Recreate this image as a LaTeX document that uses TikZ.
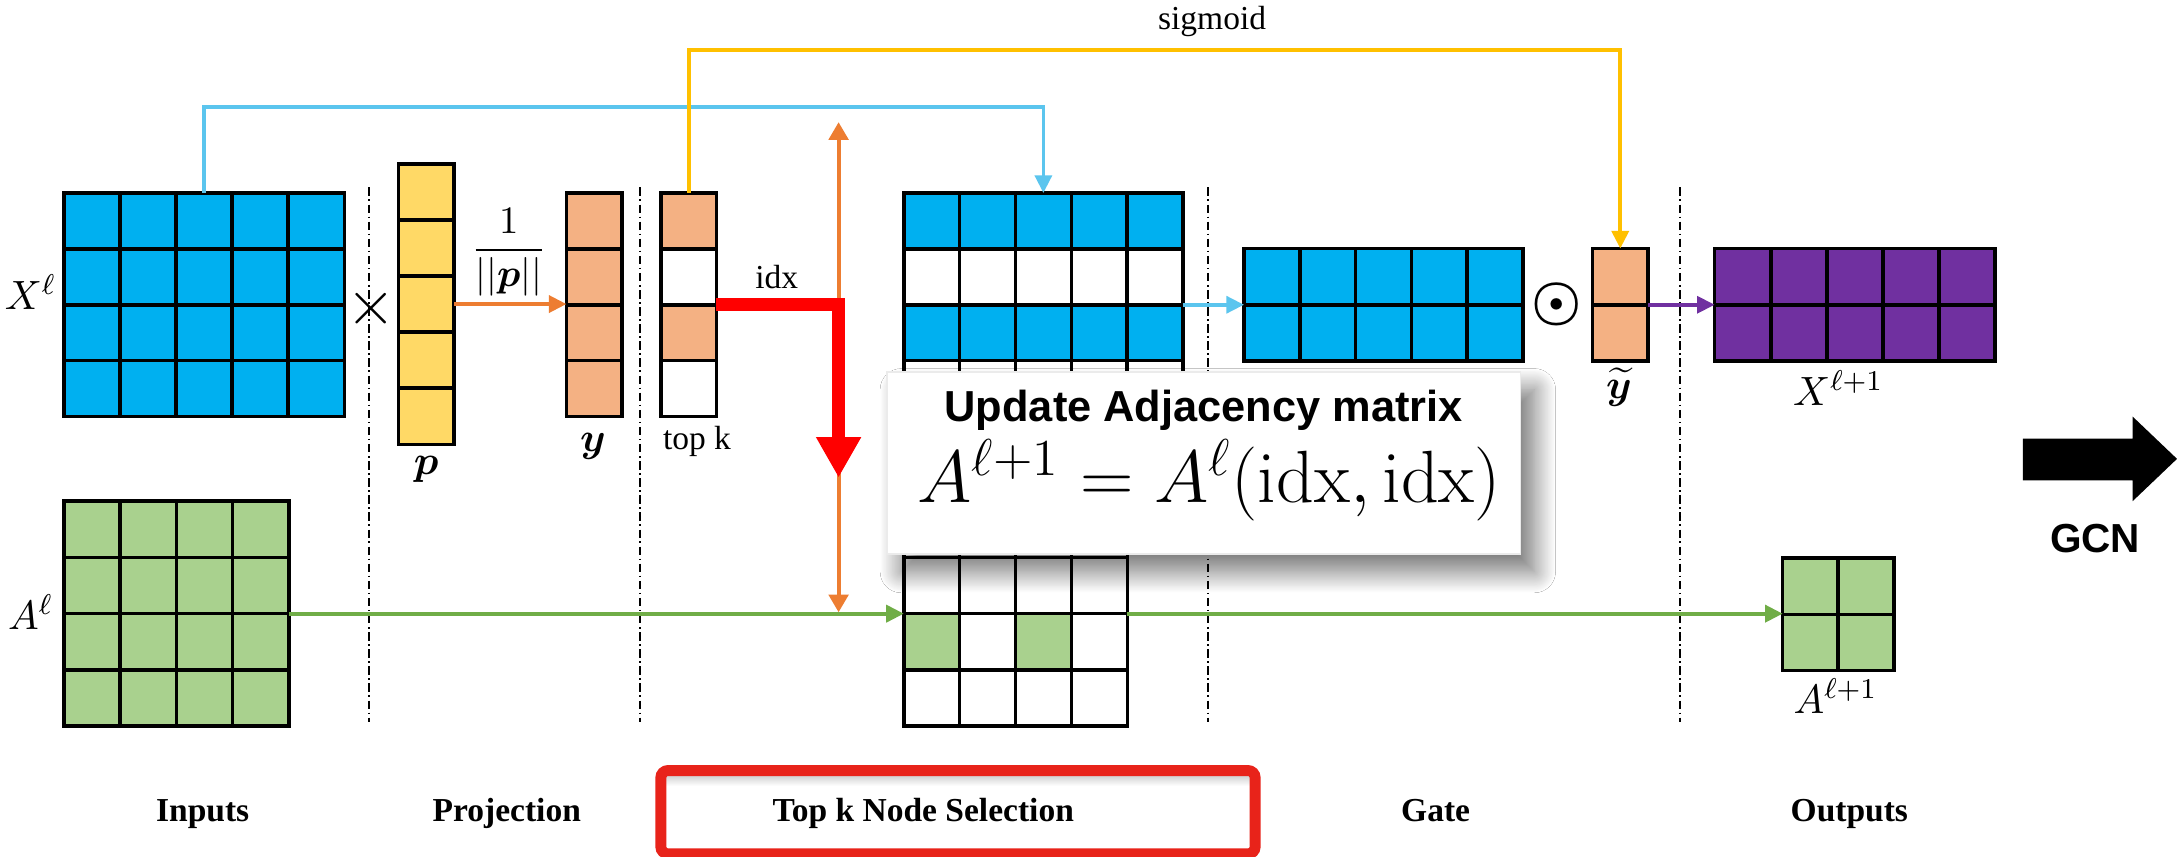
\RequirePackage{fix-cm}
\documentclass[tikz,border=0pt]{standalone}
\usepackage{amsmath}
\usepackage{bm}
\usepackage{graphicx}
\usepackage{fontspec}
\newfontfamily\serifface{Liberation Serif}
\newfontfamily\sansface{Liberation Sans}
\usetikzlibrary{arrows.meta,calc,shadows.blur}

\definecolor{cblue}{HTML}{00B0F0}
\definecolor{lblue}{HTML}{5BC5EE}
\definecolor{cyellow}{HTML}{FFD966}
\definecolor{corange}{HTML}{F4B183}
\definecolor{darkorange}{HTML}{ED7D31}
\definecolor{gold}{HTML}{FFC000}
\definecolor{cgreen}{HTML}{A9D18E}
\definecolor{lgreen}{HTML}{70AD47}
\definecolor{cpurple}{HTML}{7030A0}
\definecolor{cred}{HTML}{FF0000}
\definecolor{boxred}{HTML}{E8231A}

% one drawing unit in pt
\newcommand\upx[1]{#1*0.3937pt}

% inner grid lines and outline of a matrix node: name, columns, rows
\newcommand\matgrid[3]{%
  \pgfmathtruncatemacro\mgcols{#2-1}%
  \pgfmathtruncatemacro\mgrows{#3-1}%
  \ifnum\mgcols>0
    \foreach \i in {1,...,\mgcols}{%
      \draw[gl] ($(#1.north west)!{\i/#2}!(#1.north east)$) -- ($(#1.south west)!{\i/#2}!(#1.south east)$);}%
  \fi
  \ifnum\mgrows>0
    \foreach \j in {1,...,\mgrows}{%
      \draw[gl] ($(#1.north west)!{\j/#3}!(#1.south west)$) -- ($(#1.north east)!{\j/#3}!(#1.south east)$);}%
  \fi
  \draw[gl] (#1.north west) rectangle (#1.south east);
}

\begin{document}
\begin{tikzpicture}[x=0.3937pt,y=-0.3937pt,
  mat/.style={inner sep=0pt, outer sep=0pt, anchor=north west},
  gl/.style={line width=1pt, line cap=rect, draw=black},
  tip/.style={-{Triangle[length=5pt,width=4.8pt]}},
  sepline/.style={line width=0.5pt, dash pattern=on 2.4pt off 1pt on 0.45pt off 1pt},
  lab/.style={inner sep=0pt, anchor=base},
  small/.style={lab, font=\serifface\fontsize{9.5}{11}\selectfont},
  stage/.style={lab, font=\serifface\bfseries\fontsize{9.5}{11}\selectfont},
  mlab/.style={lab, font=\fontsize{11.6}{14}\selectfont}]

\fill[white] (0,0) rectangle (1568,617);
\useasboundingbox (0,0) rectangle (1568,617);

% stage separators
\foreach \sx in {266,461,870,1210}
  \draw[sepline] (\sx,135) -- (\sx,520);

% ---------- matrices and vectors ----------
\node[mat, fill=cblue, minimum width=\upx{202}, minimum height=\upx{161}] (X) at (46,139) {};
\matgrid{X}{5}{4}

\node[mat, fill=cgreen, minimum width=\upx{162}, minimum height=\upx{162}] (A) at (46,361) {};
\matgrid{A}{4}{4}

\node[mat, fill=cyellow, minimum width=\upx{40}, minimum height=\upx{202}] (p) at (287,118) {};
\matgrid{p}{1}{5}

\node[mat, fill=corange, minimum width=\upx{40}, minimum height=\upx{161}] (y) at (408,139) {};
\matgrid{y}{1}{4}

\node[mat, fill=white, minimum width=\upx{40}, minimum height=\upx{161}] (topk) at (476,139) {};
\fill[corange] (476,139) rectangle (516,179.25);
\fill[corange] (476,219.5) rectangle (516,259.75);
\matgrid{topk}{1}{4}

\node[mat, fill=white, minimum width=\upx{201}, minimum height=\upx{161}] (M1) at (651,139) {};
\fill[cblue] (651,139) rectangle (852,179.25);
\fill[cblue] (651,219.5) rectangle (852,259.75);
\matgrid{M1}{5}{4}

\node[mat, fill=white, minimum width=\upx{161}, minimum height=\upx{162}] (M2) at (651,361) {};
\fill[cgreen] (651,442) rectangle (691.25,482.5);
\fill[cgreen] (731.5,442) rectangle (771.75,482.5);
\matgrid{M2}{4}{4}

\node[mat, fill=cblue, minimum width=\upx{201}, minimum height=\upx{81}] (G) at (896,179) {};
\matgrid{G}{5}{2}

\node[mat, fill=corange, minimum width=\upx{40}, minimum height=\upx{81}] (yt) at (1147,179) {};
\matgrid{yt}{1}{2}

\node[mat, fill=cpurple, minimum width=\upx{202}, minimum height=\upx{81}] (Xn) at (1235,179) {};
\matgrid{Xn}{5}{2}

\node[mat, fill=cgreen, minimum width=\upx{80}, minimum height=\upx{81}] (A1) at (1284,402) {};
\matgrid{A1}{2}{2}

% ---------- connectors ----------
\coordinate (blrail) at (0,77);
\coordinate (ylrail) at (0,36);
\coordinate (otop) at (604,88);
\coordinate (obot) at (604,441);
\coordinate (redtip) at (604,344);

\draw[lblue, line width=1pt, tip] (X.north) -- (X.north |- blrail) -| (M1.north);
\draw[gold, line width=1.1pt, tip] (topk.north) -- (topk.north |- ylrail) -| (yt.north);
\draw[darkorange, line width=1.1pt, tip] (p.east) -- (p.east -| y.west);
\draw[lblue, line width=1pt, tip] (M1.east) -- (G.west);
\draw[cpurple, line width=1pt, tip] (yt.east) -- (Xn.west);
\draw[lgreen, line width=1.1pt, tip] (A.east) -- (M2.west);
\draw[lgreen, line width=1.1pt, tip] (M2.east) -- (M2.east -| A1.west);
\draw[darkorange, line width=1.1pt,
  {Triangle[length=5pt,width=5.5pt]}-{Triangle[length=5pt,width=5.5pt]}] (obot) -- (otop);
\draw[cred, line width=3.8pt, -{Triangle[length=11.5pt,width=12pt]}] (topk.east) -| (redtip);

% GCN block arrow
\fill[black] (1457,316) -- (1536,316) -- (1536,300) -- (1568,330.5) -- (1536,361) -- (1536,346) -- (1457,346) -- cycle;

% ---------- update box ----------
\node[mat, fill=white, draw=black!8, line width=0.4pt, minimum width=\upx{456}, minimum height=\upx{131},
  blur shadow={shadow xshift=4pt, shadow yshift=-5pt, shadow blur radius=6pt,
               shadow blur steps=25, shadow opacity=55}] (upd) at (639,268) {};
\node[lab, font=\sansface\bfseries\fontsize{12.3}{14}\selectfont] (updtitle) at (867,303.7) {Update Adjacency matrix};
\node[lab] (updform) at (871,362) {\fontsize{21}{25}\selectfont$A^{\ell+1} = A^{\ell}(\mathrm{idx},\mathrm{idx})$};

% ---------- labels ----------
\node[mlab] (Xl) at (22,223) {$X^{\ell}$};
\node[mlab] (Al) at (22,453.6) {$A^{\ell}$};
\node[mlab] (pl) at (307,342) {$\boldsymbol{p}$};
\node[mlab] (yl) at (427,325) {$\boldsymbol{y}$};
\node[mlab] (ytl) at (1166,287) {$\widetilde{\boldsymbol{y}}$};
\node[mlab] (Xnl) at (1324,292) {$X^{\ell+1}$};
\node[mlab] (A1l) at (1322,514) {$A^{\ell+1}$};
\node[lab] (frac) at (366.5,187) {\fontsize{11}{13}\selectfont$\displaystyle\frac{1}{||\boldsymbol{p}||}$};
\node[inner sep=0pt] (times) at (267,222) {\fontsize{18}{21}\selectfont$\times$};
\node[inner sep=0pt] (odot) at (1121,219.5) {\fontsize{16}{19}\selectfont$\boldsymbol{\odot}$};
\node[small] (topkl) at (502,324) {top k};
\node[small] (idxl) at (559.5,207.6) {idx};
\node[small] (sigl) at (873,21.6) {sigmoid};
\node[lab, font=\sansface\bfseries\fontsize{11.5}{13}\selectfont] (gcn) at (1509,398) {GCN};

% ---------- stage names ----------
\shade[top color=black!18, bottom color=white] (479.5,558.5) rectangle (900.5,566);
\draw[boxred, line width=3.1pt, rounded corners=2pt] (476,555) rectangle (904,615);
\node[stage] (s1) at (146,592) {Inputs};
\node[stage] (s2) at (365,592) {Projection};
\node[stage] (s3) at (665,592) {Top k Node Selection};
\node[stage] (s4) at (1034,592) {Gate};
\node[stage] (s5) at (1332,592) {Outputs};
\end{tikzpicture}
\end{document}
